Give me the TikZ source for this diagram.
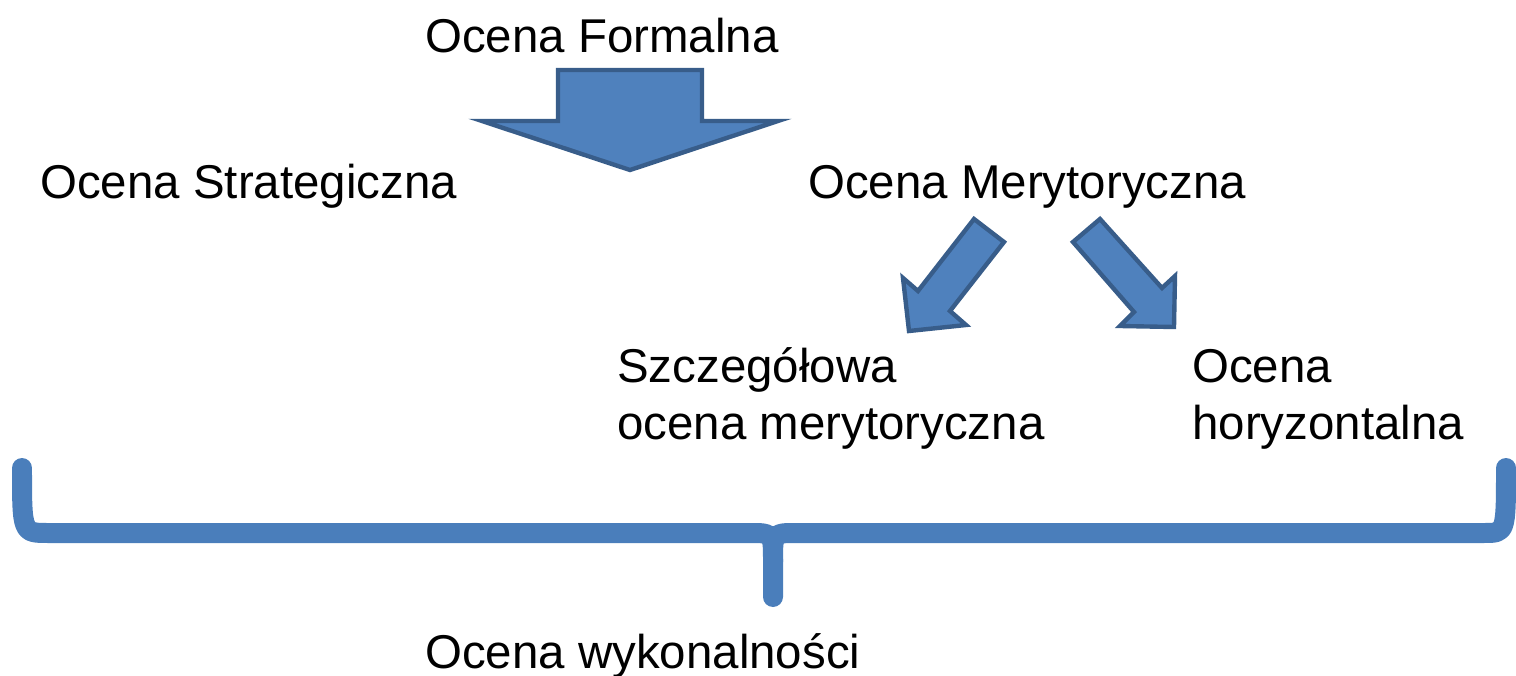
\documentclass[tikz,border=0pt]{standalone}
\usepackage{fontspec}
\setmainfont{Liberation Sans}
\definecolor{arrowfill}{HTML}{4F81BD}
\definecolor{arrowline}{HTML}{385D8A}
\definecolor{bracecol}{HTML}{4A7EBB}
\begin{document}
\begin{tikzpicture}[x=0.02cm, y=-0.02cm,
  label/.style={font=\fontsize{27}{32.4}\selectfont, inner sep=0,
    anchor=base west, align=left},
  blockarrow/.style={fill=arrowfill, draw=arrowline, line width=2.5pt},
  bracket/.style={draw=bracecol, line width=0.4cm, line cap=round,
    line join=round}]
  \useasboundingbox (0,0) rectangle (1516,676);
  % draw labels
  \node[label] (formalna) at (425,52) {Ocena Formalna};
  \node[label] (strategiczna) at (40,198) {Ocena Strategiczna};
  \node[label] (merytoryczna) at (808,198) {Ocena Merytoryczna};
  \node[label] (szczegolowa) at (617,439) {Szczegółowa\\ocena merytoryczna};
  \node[label] (horyzontalna) at (1192,439) {Ocena\\horyzontalna};
  \node[label] (wykonalnosc) at (425,668) {Ocena wykonalności};
  % draw big arrow below Ocena Formalna
  \draw[blockarrow] (558,70) -- (702,70) -- (702,121) -- (778,121)
    -- (630,170) -- (482,121) -- (558,121) -- cycle;
  % draw small arrows below Ocena Merytoryczna
  \draw[blockarrow] (974,219) -- (1004,242) -- (950,311) -- (966,325)
    -- (909,331) -- (903,278) -- (918,291) -- cycle;
  \draw[blockarrow] (1073,242) -- (1100,219) -- (1162,288) -- (1175,276)
    -- (1174,327) -- (1120,326) -- (1134,312) -- cycle;
  % draw brace
  \draw[bracket] (22,468) .. controls (22,533) .. (48,533) -- (750,533)
    .. controls (773,533) .. (773,562) -- (773,597);
  \draw[bracket] (773,562) .. controls (773,533) .. (796,533) -- (1484,533)
    .. controls (1506,533) .. (1506,468);
\end{tikzpicture}
\end{document}
